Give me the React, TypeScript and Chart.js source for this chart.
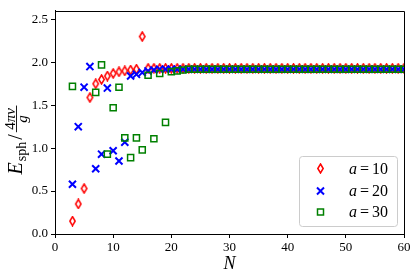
import React, { useEffect, useRef } from "react";
import { Chart, registerables } from "chart.js";

Chart.register(...registerables);

// ---------- data ----------
const N_VALUES = [
  3, 4, 5, 6, 7, 8, 9, 10, 11, 12, 13, 14, 15, 16, 17, 18, 19, 20,
  21, 22, 23, 24, 25, 26, 27, 28, 29, 30, 31, 32, 33, 34, 35, 36, 37, 38, 39, 40,
  41, 42, 43, 44, 45, 46, 47, 48, 49, 50, 51, 52, 53, 54, 55, 56, 57, 58, 59, 60,
];

const A10_VALUES = [
  0.15, 0.35, 0.53, 1.59, 1.75, 1.8, 1.84, 1.87, 1.89, 1.9, 1.91, 1.92, 2.3, 1.93, 1.93, 1.93, 1.93, 1.93,
  1.93, 1.93, 1.93, 1.93, 1.93, 1.93, 1.93, 1.93, 1.93, 1.93, 1.93, 1.93, 1.93, 1.93, 1.93, 1.93, 1.93, 1.93, 1.93, 1.93,
  1.93, 1.93, 1.93, 1.93, 1.93, 1.93, 1.93, 1.93, 1.93, 1.93, 1.93, 1.93, 1.93, 1.93, 1.93, 1.93, 1.93, 1.93, 1.93, 1.93,
];

const A20_VALUES = [
  0.58, 1.25, 1.71, 1.95, 0.76, 0.93, 1.7, 0.97, 0.85, 1.07, 1.84, 1.86, 1.88, 1.9, 1.91, 1.92, 1.92, 1.92,
  1.92, 1.92, 1.92, 1.92, 1.92, 1.92, 1.92, 1.92, 1.92, 1.92, 1.92, 1.92, 1.92, 1.92, 1.92, 1.92, 1.92, 1.92, 1.92, 1.92,
  1.92, 1.92, 1.92, 1.92, 1.92, 1.92, 1.92, 1.92, 1.92, 1.92, 1.92, 1.92, 1.92, 1.92, 1.92, 1.92, 1.92, 1.92, 1.92, 1.92,
];

const A30_VALUES: (number | null)[] = [
  1.72, null, null, null, 1.65, 1.97, 0.93, 1.47, 1.71, 1.12, 0.89, 1.12, 0.98, 1.85, 1.11, 1.87, 1.3, 1.89,
  1.9, 1.91, 1.92, 1.92, 1.92, 1.92, 1.92, 1.92, 1.92, 1.92, 1.92, 1.92, 1.92, 1.92, 1.92, 1.92, 1.92, 1.92, 1.92, 1.92,
  1.92, 1.92, 1.92, 1.92, 1.92, 1.92, 1.92, 1.92, 1.92, 1.92, 1.92, 1.92, 1.92, 1.92, 1.92, 1.92, 1.92, 1.92, 1.92, 1.92,
];

const SERIES_A = ["10", "20", "30"];
const SERIES_COLORS = ["red", "blue", "green"];
const X_TICKS = [0, 10, 20, 30, 40, 50, 60];
const Y_TICKS = [0, 0.5, 1.0, 1.5, 2.0, 2.5];
const X_TITLE = "N";

const SERIF = '"Liberation Serif", "Times New Roman", serif';

function makeDiamond(color: string): HTMLCanvasElement {
  const c = document.createElement("canvas");
  c.width = 9;
  c.height = 11;
  const g = c.getContext("2d")!;
  g.strokeStyle = color;
  g.lineWidth = 1.5;
  g.beginPath();
  g.moveTo(4.5, 1.0);
  g.lineTo(7.2, 5.5);
  g.lineTo(4.5, 10.0);
  g.lineTo(1.8, 5.5);
  g.closePath();
  g.stroke();
  return c;
}

function drawYTitle(ctx: CanvasRenderingContext2D, cx: number, cy: number) {
  ctx.save();
  ctx.translate(cx, cy);
  ctx.rotate(-Math.PI / 2);
  const F = 20;
  const S = 14;
  const FN = 15;
  const fE = `italic ${F}px ${SERIF}`;
  const fSub = `${S}px ${SERIF}`;
  const fSl = `${F}px ${SERIF}`;
  const fNR = `${FN}px ${SERIF}`;
  const fNI = `italic ${FN}px ${SERIF}`;
  ctx.font = fE;
  const wE = ctx.measureText("E").width;
  ctx.font = fSub;
  const wSub = ctx.measureText("sph").width;
  ctx.font = fSl;
  const wSl = ctx.measureText("/").width;
  ctx.font = fNR;
  const w4 = ctx.measureText("4").width;
  ctx.font = fNI;
  const wPv = ctx.measureText("πv").width;
  const wg = ctx.measureText("g").width;
  const wFrac = w4 + wPv + 5;
  const total = wE + 1 + wSub + 2 + wSl + 2 + wFrac;
  let x = -total / 2;
  ctx.fillStyle = "black";
  ctx.textBaseline = "alphabetic";
  ctx.textAlign = "left";
  ctx.font = fE;
  ctx.fillText("E", x, 0);
  x += wE + 1;
  ctx.font = fSub;
  ctx.fillText("sph", x, 4);
  x += wSub + 2;
  ctx.font = fSl;
  ctx.fillText("/", x, 0);
  x += wSl + 2;
  const barY = -5.5;
  ctx.fillRect(x, barY - 0.45, wFrac, 0.9);
  ctx.font = fNR;
  ctx.fillText("4", x + 2.5, barY - 2);
  ctx.font = fNI;
  ctx.fillText("πv", x + 2.5 + w4, barY - 2);
  ctx.fillText("g", x + (wFrac - wg) / 2, barY + 10);
  ctx.restore();
}

export default function App() {
  const ref = useRef<HTMLCanvasElement | null>(null);

  useEffect(() => {
    const canvas = ref.current;
    if (!canvas) return;
    const diamond = makeDiamond(SERIES_COLORS[0]);

    const overlay = {
      id: "overlay",
      afterDraw(chart: any) {
        const ctx: CanvasRenderingContext2D = chart.ctx;
        const a = chart.chartArea;
        ctx.save();
        // top & right spines
        ctx.strokeStyle = "black";
        ctx.lineWidth = 1;
        ctx.beginPath();
        ctx.moveTo(Math.round(a.left) + 0.5, Math.round(a.top) + 0.5);
        ctx.lineTo(Math.round(a.right) + 0.5, Math.round(a.top) + 0.5);
        ctx.lineTo(Math.round(a.right) + 0.5, Math.round(a.bottom) + 0.5);
        ctx.stroke();

        // x title
        ctx.fillStyle = "black";
        ctx.font = `italic 18px ${SERIF}`;
        ctx.textAlign = "center";
        ctx.textBaseline = "middle";
        ctx.fillText(X_TITLE, (a.left + a.right) / 2, 264);

        // y title
        drawYTitle(ctx, 22, 140);

        // legend
        const lx = a.right - 105;
        const ly = a.bottom - 78;
        const lw = 98;
        const lh = 70;
        ctx.beginPath();
        (ctx as any).roundRect(lx + 0.5, ly + 0.5, lw, lh, 3);
        ctx.fillStyle = "rgba(255,255,255,0.8)";
        ctx.fill();
        ctx.strokeStyle = "#cccccc";
        ctx.lineWidth = 1;
        ctx.stroke();

        const rows = [ly + 12.5, ly + 35, ly + 56];
        const mx = lx + 21.5;
        // diamond
        ctx.drawImage(diamond, Math.round(mx - 4.5), Math.round(rows[0] - 5.5));
        // cross
        ctx.strokeStyle = SERIES_COLORS[1];
        ctx.lineWidth = 2;
        ctx.beginPath();
        const r = 3.5;
        ctx.moveTo(mx - r, rows[1] - r);
        ctx.lineTo(mx + r, rows[1] + r);
        ctx.moveTo(mx - r, rows[1] + r);
        ctx.lineTo(mx + r, rows[1] - r);
        ctx.stroke();
        // square
        ctx.strokeStyle = SERIES_COLORS[2];
        ctx.lineWidth = 1.5;
        ctx.strokeRect(mx - 3, rows[2] - 3, 6, 6);

        ctx.fillStyle = "black";
        ctx.textAlign = "left";
        ctx.textBaseline = "middle";
        SERIES_A.forEach((v, i) => {
          let tx = lx + 50;
          ctx.font = `italic 16px ${SERIF}`;
          ctx.fillText("a", tx, rows[i] + 1);
          tx += ctx.measureText("a").width + 3;
          ctx.font = `16px ${SERIF}`;
          ctx.fillText("=", tx, rows[i] + 1);
          tx += ctx.measureText("=").width + 3;
          ctx.fillText(v, tx, rows[i] + 1);
        });
        ctx.restore();
      },
    };

    const mk = (vals: (number | null)[]) =>
      N_VALUES.map((n, i) => ({ x: n, y: vals[i] }));

    const axisCommon = {
      type: "linear" as const,
      grid: {
        display: true,
        drawOnChartArea: false,
        drawTicks: true,
        tickLength: 4,
        color: "black",
        lineWidth: 1,
      },
      border: { display: true, color: "black", width: 1 },
    };

    const chart = new Chart(canvas, {
      type: "scatter",
      data: {
        datasets: [
          {
            label: "a = " + SERIES_A[0],
            data: mk(A10_VALUES),
            pointStyle: diamond as any,
            pointRadius: 5,
            order: 3,
            clip: 0,
          },
          {
            label: "a = " + SERIES_A[1],
            data: mk(A20_VALUES),
            pointStyle: "crossRot",
            pointRadius: 5,
            pointBorderColor: SERIES_COLORS[1],
            pointBackgroundColor: SERIES_COLORS[1],
            pointBorderWidth: 2,
            order: 2,
            clip: 0,
          },
          {
            label: "a = " + SERIES_A[2],
            data: mk(A30_VALUES),
            pointStyle: "rect",
            pointRadius: 4.3,
            pointBorderColor: SERIES_COLORS[2],
            pointBackgroundColor: "rgba(0,0,0,0)",
            pointBorderWidth: 1.5,
            order: 1,
            clip: 0,
          },
        ] as any,
      },
      options: {
        animation: false,
        responsive: true,
        maintainAspectRatio: false,
        events: [],
        layout: { padding: { left: 0, right: 15, top: 7, bottom: 0 } },
        plugins: { legend: { display: false }, tooltip: { enabled: false } },
        scales: {
          x: {
            ...axisCommon,
            min: X_TICKS[0],
            max: X_TICKS[X_TICKS.length - 1],
            afterBuildTicks: (s: any) => {
              s.ticks = X_TICKS.map((v) => ({ value: v }));
            },
            afterFit: (s: any) => {
              s.height = 46;
            },
            ticks: {
              color: "black",
              font: { family: SERIF, size: 13 },
              padding: 2,
              maxRotation: 0,
              autoSkip: false,
              callback: (v: any) => String(v),
            },
          },
          y: {
            ...axisCommon,
            min: 0,
            max: 2.6,
            afterBuildTicks: (s: any) => {
              s.ticks = Y_TICKS.map((v) => ({ value: v }));
            },
            afterFit: (s: any) => {
              s.width = 55;
            },
            ticks: {
              color: "black",
              font: { family: SERIF, size: 13 },
              padding: 3,
              autoSkip: false,
              callback: (v: any) => Number(v).toFixed(1),
            },
          },
        },
      } as any,
      plugins: [overlay],
    });

    return () => chart.destroy();
  }, []);

  return (
    <div style={{ position: "fixed", left: 0, top: 0, width: 419, height: 280, background: "white" }}>
      <canvas ref={ref} />
    </div>
  );
}
